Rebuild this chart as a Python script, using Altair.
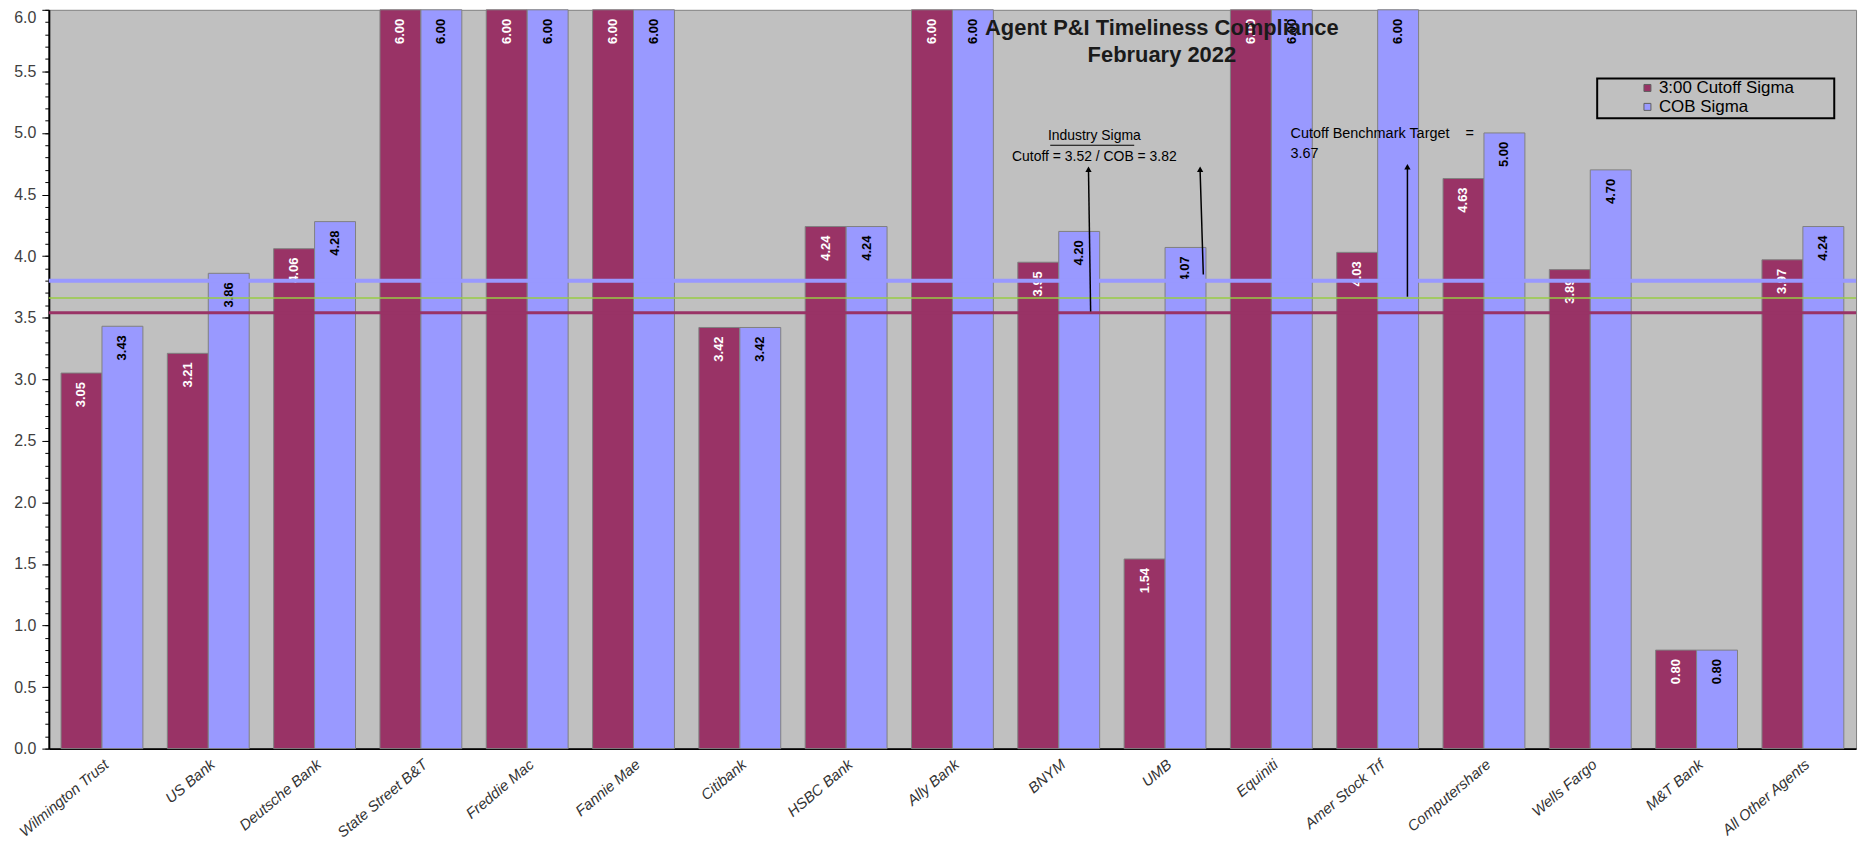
import altair as alt
import pandas as pd

# ---------------- data ----------------
agents = ["Wilmington Trust", "US Bank", "Deutsche Bank", "State Street B&T", "Freddie Mac",
          "Fannie Mae", "Citibank", "HSBC Bank", "Ally Bank", "BNYM", "UMB", "Equiniti",
          "Amer Stock Trf", "Computershare", "Wells Fargo", "M&T Bank", "All Other Agents"]
cutoff_sigma = [3.05, 3.21, 4.06, 6.00, 6.00, 6.00, 3.42, 4.24, 6.00, 3.95, 1.54, 6.00,
                4.03, 4.63, 3.89, 0.80, 3.97]
cob_sigma = [3.43, 3.86, 4.28, 6.00, 6.00, 6.00, 3.42, 4.24, 6.00, 4.20, 4.07, 6.00,
             6.00, 5.00, 4.70, 0.80, 4.24]
series_names = ["3:00 Cutoff Sigma", "COB Sigma"]
series_colors = ["#993366", "#9999FF"]

# reference lines (levels as drawn)
ref_values = [3.80, 3.66, 3.54]
ref_colors = ["#9999FF", "#99CC44", "#993366"]
ref_widths = [4, 1.5, 3]

y_ticks = [0.0, 0.5, 1.0, 1.5, 2.0, 2.5, 3.0, 3.5, 4.0, 4.5, 5.0, 5.5, 6.0]
y_minor = [round(i * 0.1, 1) for i in range(61)]

# annotation positions in category units (0..17) and value units
title_u = [10.47, 10.47]
title_v = [5.854, 5.636]
title_t = ["Agent P&I Timeliness Compliance", "February 2022"]

ind_u = [9.835, 9.835]
ind_v = [4.973, 4.803]
ind_t = ["Industry Sigma", "Cutoff = 3.52 / COB = 3.82"]

bench_u = [11.68, 11.68]
bench_v = [4.989, 4.828]
bench_t = ["Cutoff Benchmark Target\u00a0\u00a0\u00a0\u00a0=", "3.67"]

underline = {"u": [9.42], "u2": [10.21], "v": [4.900]}

arrow_u = [9.80, 10.86, 12.78]
arrow_u2 = [9.78, 10.83, 12.78]
arrow_v = [3.55, 3.85, 3.67]
arrow_v2 = [4.69, 4.69, 4.71]
head_v = [4.705, 4.705, 4.725]

legend_box = {"u": [14.565], "u2": [16.795], "v": [5.442], "v2": [5.119]}

# ---------------- tables ----------------
rows = []
for a, c, b in zip(agents, cutoff_sigma, cob_sigma):
    rows.append({"agent": a, "series": series_names[0], "value": c})
    rows.append({"agent": a, "series": series_names[1], "value": b})
bars_df = pd.DataFrame(rows)
ref_df = pd.DataFrame({"value": ref_values, "color": ref_colors, "w": ref_widths})
title_df = pd.DataFrame({"u": title_u, "v": title_v, "t": title_t})
ind_df = pd.DataFrame({"u": ind_u, "v": ind_v, "t": ind_t})
bench_df = pd.DataFrame({"u": bench_u, "v": bench_v, "t": bench_t})
under_df = pd.DataFrame(underline)
arrow_df = pd.DataFrame({"u": arrow_u, "u2": arrow_u2, "v": arrow_v, "v2": arrow_v2})
head_df = pd.DataFrame({"u": arrow_u2, "v": head_v})
box_df = pd.DataFrame(legend_box)

FONT = "Liberation Sans"
W, H = 1815, 742
N = len(agents)

y_scale = alt.Scale(domain=[0, 6], nice=False, zero=True)
u_scale = alt.Scale(domain=[0, N], nice=False, zero=True)

x_axis = alt.Axis(title=None, labelAngle=-40, labelFontSize=15, labelFontStyle="italic",
                  labelColor="#333333", labelFont=FONT, ticks=False, domainColor="#000000",
                  domainWidth=2, labelPadding=8)
x_enc = alt.X("agent:N", sort=agents, axis=x_axis,
              scale=alt.Scale(paddingInner=0.23, paddingOuter=0.115))
x_enc_noaxis = alt.X("agent:N", sort=agents, axis=None,
                     scale=alt.Scale(paddingInner=0.23, paddingOuter=0.115))
xoff = alt.XOffset("series:N", sort=series_names,
                   scale=alt.Scale(paddingInner=0, paddingOuter=0))

y_axis = alt.Axis(title=None, values=y_ticks, format=".1f", tickSize=7, tickColor="#000000",
                  labelFontSize=16, labelColor="#404040", labelFont=FONT, labelPadding=6,
                  labelBaseline={"condition": {"test": "datum.value >= 6", "value": "top"},
                                 "value": "middle"},
                  domainColor="#000000", domainWidth=2, grid=False, orient="left")
y_minor_axis = alt.Axis(title=None, values=y_minor, tickSize=4, tickColor="#000000",
                        labels=False, domain=False, grid=False, orient="left")

bars = alt.Chart(bars_df).mark_bar(stroke="#808080", strokeWidth=1).encode(
    x=x_enc,
    xOffset=xoff,
    y=alt.Y("value:Q", scale=y_scale, axis=y_axis),
    color=alt.Color("series:N", sort=series_names,
                    scale=alt.Scale(domain=series_names, range=series_colors),
                    legend=alt.Legend(title=None, orient="none", legendX=1597, legendY=70,
                                      symbolType="square", symbolSize=49,
                                      symbolStrokeColor="#606060", symbolStrokeWidth=1,
                                      labelFontSize=17, labelFont=FONT, labelColor="#000000",
                                      labelOffset=3, rowPadding=1, padding=0)),
)

labels = alt.Chart(bars_df).mark_text(
    angle=270, align="right", baseline="middle", dx=-9, fontSize=13,
    fontWeight="bold", font=FONT
).encode(
    x=x_enc_noaxis,
    xOffset=xoff,
    y=alt.Y("value:Q", scale=y_scale, axis=y_minor_axis),
    text=alt.Text("value:Q", format=".2f"),
    color=alt.condition(alt.datum.series == series_names[0],
                        alt.value("#FFFFFF"), alt.value("#000000")),
)

refs = alt.Chart(ref_df).mark_rule().encode(
    y=alt.Y("value:Q", scale=y_scale, axis=None),
    color=alt.Color("color:N", scale=None, legend=None),
    strokeWidth=alt.StrokeWidth("w:Q", scale=None, legend=None),
)


def ux(field="u"):
    return alt.X(f"{field}:Q", scale=u_scale, axis=None)


def vy(field="v"):
    return alt.Y(f"{field}:Q", scale=y_scale, axis=None)


arrows = alt.Chart(arrow_df).mark_rule(color="#000000", strokeWidth=1.5).encode(
    x=ux(), x2="u2:Q", y=vy(), y2="v2:Q")
heads = alt.Chart(head_df).mark_point(shape="triangle-up", filled=True, color="#000000",
                                      size=40, opacity=1).encode(x=ux(), y=vy())
under = alt.Chart(under_df).mark_rule(color="#000000", strokeWidth=1).encode(
    x=ux(), x2="u2:Q", y=vy())
box = alt.Chart(box_df).mark_rect(fill=None, fillOpacity=0, stroke="#000000",
                                  strokeWidth=2).encode(
    x=ux(), x2="u2:Q", y=vy(), y2="v2:Q")

ind_text = alt.Chart(ind_df).mark_text(fontSize=14, font=FONT, color="#000000",
                                       align="center", baseline="middle").encode(
    x=ux(), y=vy(), text="t:N")
bench_text = alt.Chart(bench_df).mark_text(fontSize=14.5, font=FONT, color="#000000",
                                           align="left", baseline="middle").encode(
    x=ux(), y=vy(), text="t:N")
title_text = alt.Chart(title_df).mark_text(fontSize=22, font=FONT, fontWeight="bold",
                                           color="#1a1a1a", align="center",
                                           baseline="middle").encode(
    x=ux(), y=vy(), text="t:N")

chart = alt.layer(
    bars, labels, refs, arrows, heads, under, box, ind_text, bench_text, title_text
).resolve_scale(
    x="independent"
).resolve_axis(
    y="independent"
).properties(
    width=W, height=H,
    autosize=alt.AutoSizeParams(type="none"),
    padding={"left": 41, "top": 0, "right": 10, "bottom": 100},
    background="#FFFFFF",
).configure_view(
    fill="#C0C0C0", stroke="#808080", strokeWidth=1
)

chart.save("out.html", embed_options={"renderer": "svg", "actions": False})
